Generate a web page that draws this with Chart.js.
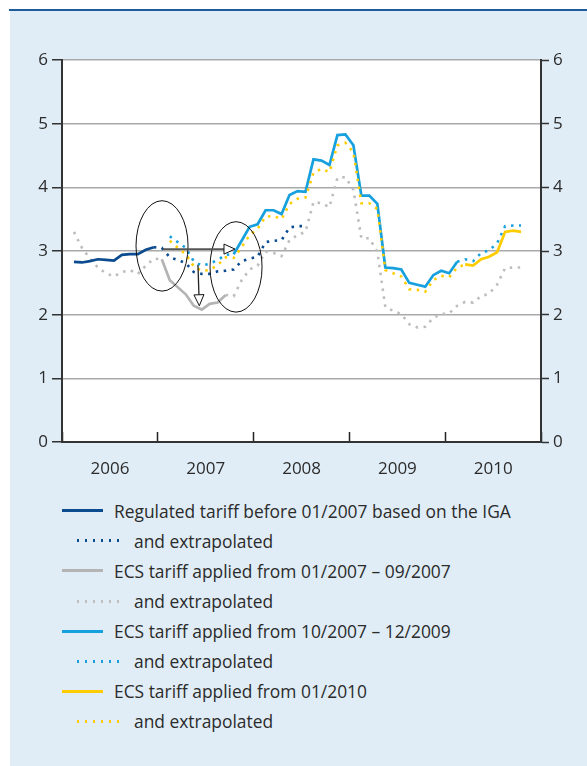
<!DOCTYPE html>
<html>
<head>
<meta charset="utf-8">
<script src="https://cdn.jsdelivr.net/npm/chart.js@4.4.1/dist/chart.umd.min.js"></script>
<style>
  html, body { margin:0; padding:0; }
  body { width:587px; height:766px; position:relative; background:#fff; overflow:hidden; font-family:"Open Sans", sans-serif; }
  #panel { position:absolute; left:10px; top:11px; right:0; bottom:0; background:#e0edf6; }
  #rule { position:absolute; left:9px; top:9px; width:578px; height:2px; background:#1f5b9b; }
  #c { position:absolute; left:0; top:0; }
  #legend { position:absolute; left:0; top:0; width:587px; }
  .row { position:absolute; left:0; width:587px; height:30px; }
  .swatch { position:absolute; top:13.5px; height:3px; }
  .txt { position:absolute; top:0; line-height:30px; font-size:17.4px; color:#2b2b2b; white-space:nowrap; }
</style>
</head>
<body>
<div id="panel"></div>
<div id="rule"></div>
<canvas id="c" width="587" height="490"></canvas>
<div id="legend"></div>
<script>
// ---- data (monthly values, index 0 = Jan 2006) ----
const years = ['2006', '2007', '2008', '2009', '2010'];
const yTicks = [0, 1, 2, 3, 4, 5, 6];

const regulatedStart = 1;
const regulated = [2.83, 2.82, 2.84, 2.87, 2.86, 2.85, 2.94, 2.95, 2.95, 3.02, 3.06];
const regulatedExtraStart = 11;
const regulatedExtra = [3.06, 3.05, 2.90, 2.86, 2.81, 2.67, 2.64, 2.64, 2.68, 2.69, 2.71, 2.84, 2.88, 2.91, 3.14, 3.16, 3.17, 3.37, 3.39, 3.39];

const ecsAStart = 12;
const ecsA = [2.87, 2.54, 2.43, 2.32, 2.14, 2.08, 2.17, 2.19, 2.31];
const ecsAExtraPreStart = 1;
const ecsAExtraPre = [3.30, 3.05, 2.88, 2.74, 2.65, 2.60, 2.67, 2.70, 2.64, 2.77, 2.88, 2.87];
const ecsAExtraPostStart = 20;
const ecsAExtraPost = [2.31, 2.29, 2.54, 2.71, 2.77, 2.99, 2.97, 2.92, 3.17, 3.25, 3.30, 3.77, 3.75, 3.69, 4.15, 4.16, 3.96, 3.20, 3.20, 2.99, 2.12, 2.06, 2.01, 1.85, 1.80, 1.81, 1.95, 2.01, 2.02, 2.14, 2.20, 2.19, 2.29, 2.33, 2.47, 2.73, 2.74, 2.74];

const ecsBStart = 21;
const ecsB = [2.95, 3.16, 3.38, 3.42, 3.64, 3.64, 3.58, 3.88, 3.94, 3.93, 4.44, 4.42, 4.35, 4.82, 4.83, 4.66, 3.87, 3.87, 3.74, 2.74, 2.73, 2.71, 2.50, 2.47, 2.44, 2.62, 2.69, 2.65, 2.83];
const ecsBExtraPreStart = 13;
const ecsBExtraPre = [3.23, 3.14, 3.05, 2.84, 2.77, 2.80, 2.86, 2.94, 2.95];
const ecsBExtraPostStart = 49;
const ecsBExtraPost = [2.83, 2.87, 2.84, 2.97, 3.01, 3.12, 3.39, 3.40, 3.40];

const ecsCStart = 50;
const ecsC = [2.79, 2.77, 2.87, 2.91, 2.98, 3.30, 3.32, 3.30];
const ecsCExtraStart = 13;
const ecsCExtra = [3.16, 3.05, 2.95, 2.76, 2.69, 2.70, 2.78, 2.90, 2.89, 3.06, 3.25, 3.35, 3.54, 3.55, 3.50, 3.74, 3.82, 3.84, 4.23, 4.29, 4.24, 4.66, 4.70, 4.55, 3.75, 3.75, 3.66, 2.70, 2.65, 2.60, 2.40, 2.39, 2.36, 2.54, 2.61, 2.59, 2.74, 2.79];

const legendItems = [
  { text: 'Regulated tariff before 01/2007 based on the IGA', color: '#0b4b8f', dotted: false },
  { text: 'and extrapolated', color: '#0b4b8f', dotted: true },
  { text: 'ECS tariff applied from 01/2007 \u2013 09/2007', color: '#b4b4b4', dotted: false },
  { text: 'and extrapolated', color: '#bdbdbd', dotted: true },
  { text: 'ECS tariff applied from 10/2007 \u2013 12/2009', color: '#17a0de', dotted: false },
  { text: 'and extrapolated', color: '#17a0de', dotted: true },
  { text: 'ECS tariff applied from 01/2010', color: '#ffcc00', dotted: false },
  { text: 'and extrapolated', color: '#ffcc00', dotted: true }
];

// annotation shapes in data coordinates (months, tariff)
const ellipses = [
  { x: 12.53, y: 3.08, rx: 3.26, ry: 0.71 },
  { x: 21.8, y: 2.75, rx: 3.26, ry: 0.71 }
];
const arrows = [
  { x1: 12.65, y1: 3.03, x2: 21.67, y2: 3.03, color: '#555', width: 1.8 },
  { x1: 17.03, y1: 2.78, x2: 17.2, y2: 2.14, color: '#222', width: 1.3 }
];

// ---- build ----
const toPts = (arr, start) => arr.map((v, k) => ({ x: start + k + 0.5, y: v }));
const DOT = [2.5, 5.5];
function solid(data, color, order) {
  return { data, borderColor: color, borderWidth: 2.7, pointRadius: 0, tension: 0, fill: false, order, borderCapStyle: 'butt', borderJoinStyle: 'miter' };
}
function dotted(data, color, order) {
  return { data, borderColor: color, borderWidth: 2.6, pointRadius: 0, tension: 0, fill: false, order, borderDash: DOT, borderCapStyle: 'butt' };
}

const datasets = [
  dotted(toPts(ecsAExtraPre, ecsAExtraPreStart), '#bdbdbd', 9),
  dotted(toPts(ecsAExtraPost, ecsAExtraPostStart), '#bdbdbd', 9),
  solid(toPts(ecsA, ecsAStart), '#b4b4b4', 8),
  dotted(toPts(regulatedExtra, regulatedExtraStart), '#0b4b8f', 7),
  solid(toPts(regulated, regulatedStart), '#0b4b8f', 6),
  dotted(toPts(ecsBExtraPre, ecsBExtraPreStart), '#17a0de', 5),
  dotted(toPts(ecsBExtraPost, ecsBExtraPostStart), '#17a0de', 5),
  solid(toPts(ecsB, ecsBStart), '#17a0de', 4),
  dotted(toPts(ecsCExtra, ecsCExtraStart), '#ffcc00', 3),
  solid(toPts(ecsC, ecsCStart), '#ffcc00', 2)
];

const plotBg = {
  id: 'plotBg',
  beforeDraw(chart) {
    const { ctx, chartArea: a } = chart;
    ctx.save();
    ctx.fillStyle = '#ffffff';
    ctx.fillRect(a.left, a.top, a.right - a.left, a.bottom - a.top);
    ctx.restore();
  }
};

const notes = {
  id: 'notes',
  afterDatasetsDraw(chart) {
    const { ctx } = chart;
    const xs = chart.scales.x, ys = chart.scales.y;
    const px = v => xs.getPixelForValue(v), py = v => ys.getPixelForValue(v);
    ctx.save();
    ctx.strokeStyle = '#111';
    ctx.lineWidth = 1;
    ellipses.forEach(e => {
      const cx = px(e.x), cy = py(e.y);
      const rx = Math.abs(px(e.x + e.rx) - cx), ry = Math.abs(py(e.y + e.ry) - cy);
      ctx.beginPath();
      ctx.ellipse(cx, cy, rx, ry, 0, 0, Math.PI * 2);
      ctx.stroke();
    });
    arrows.forEach(a => {
      const x1 = px(a.x1), y1 = py(a.y1), x2 = px(a.x2), y2 = py(a.y2);
      const ang = Math.atan2(y2 - y1, x2 - x1);
      const hl = 11, hw = 5;
      const bx = x2 - hl * Math.cos(ang), by = y2 - hl * Math.sin(ang);
      ctx.strokeStyle = a.color;
      ctx.lineWidth = a.width;
      ctx.beginPath();
      ctx.moveTo(x1, y1);
      ctx.lineTo(bx, by);
      ctx.stroke();
      ctx.beginPath();
      ctx.moveTo(x2, y2);
      ctx.lineTo(bx + hw * Math.sin(ang), by - hw * Math.cos(ang));
      ctx.lineTo(bx - hw * Math.sin(ang), by + hw * Math.cos(ang));
      ctx.closePath();
      ctx.fillStyle = '#ffffff';
      ctx.fill();
      ctx.strokeStyle = '#111';
      ctx.lineWidth = 1;
      ctx.stroke();
    });
    ctx.restore();
  }
};

const tickFont = { family: 'Open Sans', size: 17 };
const yCommon = {
  type: 'linear', min: 0, max: 6,
  afterBuildTicks(s) { s.ticks = yTicks.map(v => ({ value: v })); },
  ticks: { color: '#2b2b2b', font: tickFont, padding: 4 },
  border: { color: '#333', width: 2 }
};

new Chart(document.getElementById('c'), {
  type: 'line',
  data: { datasets },
  plugins: [plotBg, notes],
  options: {
    responsive: false,
    animation: false,
    events: [],
    layout: { padding: { top: 60, left: 0, right: 0, bottom: 0 } },
    plugins: { legend: { display: false }, tooltip: { enabled: false } },
    scales: {
      x: {
        type: 'linear', min: 0, max: 60,
        afterBuildTicks(s) { s.ticks = [0, 12, 24, 36, 48, 60].map(v => ({ value: v })); },
        ticks: {
          color: '#2b2b2b', font: tickFont, padding: 27, labelOffset: 48, maxRotation: 0, autoSkip: false,
          callback: v => years[v / 12] || ''
        },
        grid: { drawOnChartArea: false, tickLength: -10, tickColor: '#222', tickWidth: 1.5 },
        border: { color: '#333', width: 2 },
        afterFit(s) { s.height = 48; }
      },
      y: Object.assign({}, yCommon, {
        position: 'left',
        grid: { color: '#a9a9a9', lineWidth: 1.5, tickColor: '#333', tickLength: 10, tickWidth: 1.5 },
        afterFit(s) { s.width = 62; }
      }),
      y2: Object.assign({}, yCommon, {
        position: 'right',
        grid: { drawOnChartArea: false, tickColor: '#333', tickLength: 8, tickWidth: 1.5 },
        afterFit(s) { s.width = 46; }
      })
    }
  }
});

// ---- legend (HTML) ----
const legend = document.getElementById('legend');
legendItems.forEach((it, k) => {
  const row = document.createElement('div');
  row.className = 'row';
  row.style.top = (495.7 + k * 30.1) + 'px';
  const sw = document.createElement('div');
  sw.className = 'swatch';
  if (it.dotted) {
    sw.style.left = '77px'; sw.style.width = '42px';
    sw.style.background = 'repeating-linear-gradient(to right, ' + it.color + ' 0 2.5px, transparent 2.5px 8px)';
  } else {
    sw.style.left = '62px'; sw.style.width = '41px';
    sw.style.background = it.color;
  }
  const tx = document.createElement('div');
  tx.className = 'txt';
  tx.style.left = it.dotted ? '134px' : '114px';
  tx.textContent = it.text;
  row.appendChild(sw); row.appendChild(tx);
  legend.appendChild(row);
});
</script>
</body>
</html>
